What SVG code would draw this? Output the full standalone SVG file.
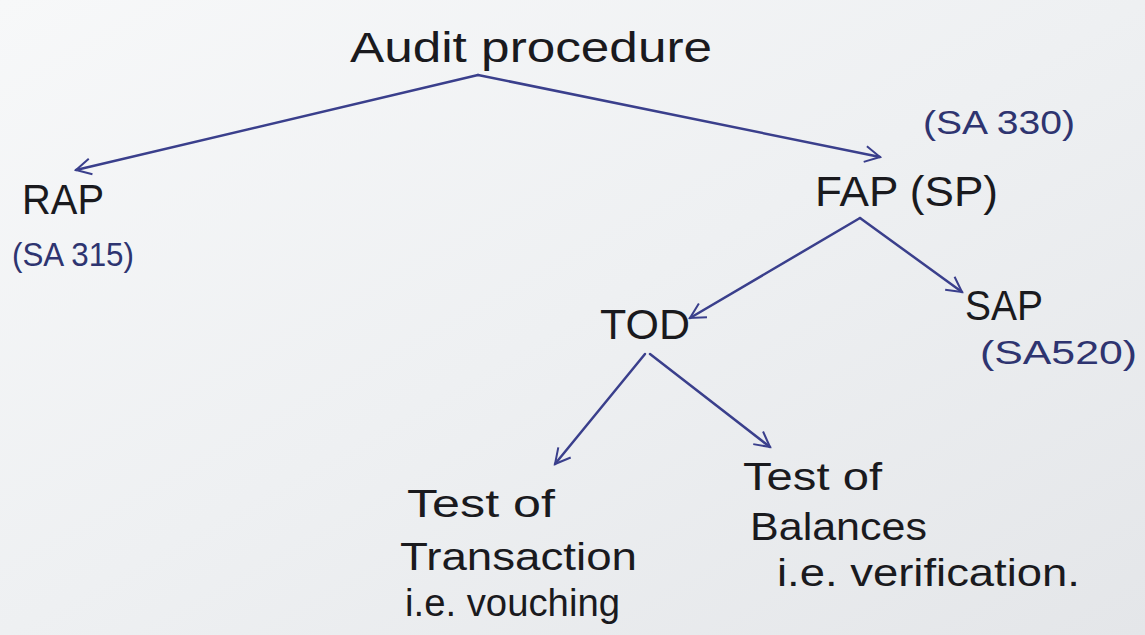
<svg xmlns="http://www.w3.org/2000/svg" width="1145" height="635" viewBox="0 0 1145 635">
<defs>
<linearGradient id="paper" x1="0" y1="0" x2="1" y2="1">
<stop offset="0" stop-color="#f7f8f9"/>
<stop offset="0.5" stop-color="#eef0f2"/>
<stop offset="1" stop-color="#e4e6e9"/>
</linearGradient>
<marker id="arr" viewBox="0 0 12 12" refX="11" refY="6" markerWidth="12" markerHeight="12" markerUnits="userSpaceOnUse" orient="auto" overflow="visible">
<path d="M-4,-2 L11,6 L-4,14" fill="none" stroke="#3a3f8c" stroke-width="2"/>
</marker>
<style>
.t{font-family:"Liberation Sans",Arial,sans-serif;fill:#1a1a1e;font-size:42px}
.s{font-family:"Liberation Sans",Arial,sans-serif;fill:#1a1a1e;font-size:38px}
.b{font-family:"Liberation Sans",Arial,sans-serif;fill:#2e3470;font-size:34px}
.c{fill:none;stroke:#3a3f8c;stroke-width:2.5;stroke-linecap:round;marker-end:url(#arr)}
</style>
</defs>
<rect width="1145" height="635" fill="url(#paper)"/>
<g id="connectors">
<line class="c" x1="478" y1="75" x2="76" y2="170"/>
<line class="c" x1="478" y1="75" x2="880" y2="157"/>
<line class="c" x1="860" y1="218" x2="690" y2="318"/>
<line class="c" x1="860" y1="218" x2="962" y2="292"/>
<line class="c" x1="645" y1="354" x2="555" y2="464"/>
<line class="c" x1="650" y1="354" x2="770" y2="447"/>
</g>
<g id="audit"><text class="t" x="350" y="62" textLength="362" lengthAdjust="spacingAndGlyphs">Audit procedure</text></g>
<g id="rap">
<text class="t" x="22" y="214" textLength="82" lengthAdjust="spacingAndGlyphs">RAP</text>
<text class="b" x="12" y="266" textLength="122" lengthAdjust="spacingAndGlyphs">(SA 315)</text>
</g>
<g id="fap">
<text class="b" x="923" y="134" textLength="152" lengthAdjust="spacingAndGlyphs">(SA 330)</text>
<text class="t" x="815" y="206" textLength="183" lengthAdjust="spacingAndGlyphs">FAP (SP)</text>
</g>
<g id="tod"><text class="t" x="600" y="339" textLength="90" lengthAdjust="spacingAndGlyphs">TOD</text></g>
<g id="sap">
<text class="t" x="965" y="320" textLength="78" lengthAdjust="spacingAndGlyphs">SAP</text>
<text class="b" x="980" y="364" textLength="157" lengthAdjust="spacingAndGlyphs">(SA520)</text>
</g>
<g id="tot">
<text class="s" x="407" y="517" textLength="148" lengthAdjust="spacingAndGlyphs">Test of</text>
<text class="s" x="400" y="570" textLength="237" lengthAdjust="spacingAndGlyphs">Transaction</text>
<text class="s" x="405" y="616" textLength="215" lengthAdjust="spacingAndGlyphs">i.e. vouching</text>
</g>
<g id="tob">
<text class="s" x="743" y="490" textLength="139" lengthAdjust="spacingAndGlyphs">Test of</text>
<text class="s" x="750" y="540" textLength="177" lengthAdjust="spacingAndGlyphs">Balances</text>
<text class="s" x="777" y="586" textLength="303" lengthAdjust="spacingAndGlyphs">i.e. verification.</text>
</g>
</svg>
